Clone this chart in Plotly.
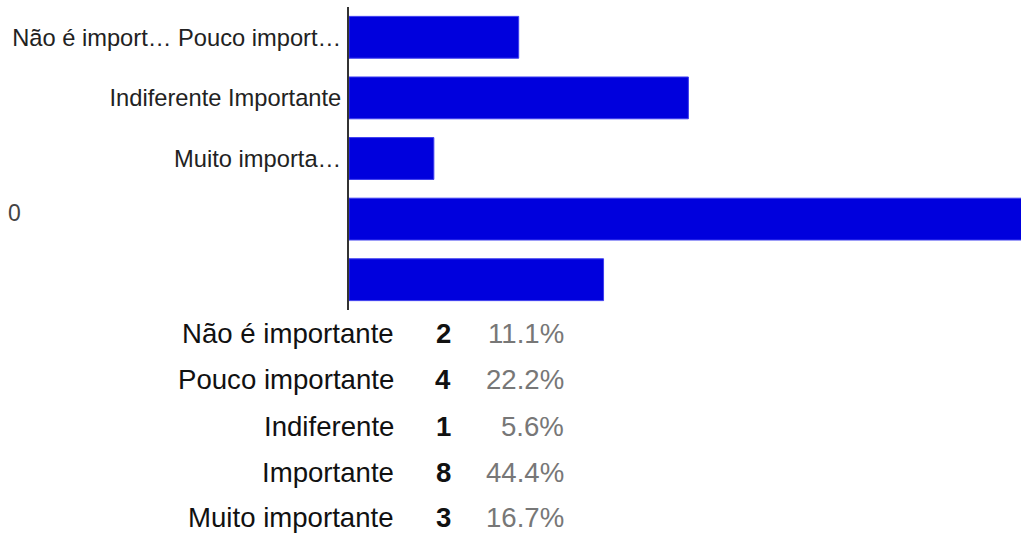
import plotly.graph_objects as go

categories = ["Não é importante", "Pouco importante", "Indiferente", "Importante", "Muito importante"]
counts = [2, 4, 1, 8, 3]
tick_positions = [0, 1, 2]
tick_labels = ["Não é import… Pouco import…", "Indiferente Importante", "Muito importa…"]

W, H = 1021, 535
L, R, T, B = 349, 0, 7, 225
pw, ph = W - L - R, H - T - B

def px_x(x):
    return (x - L) / pw

def px_y(y):
    return (H - B - y) / ph

fig = go.Figure(go.Bar(
    x=counts, y=list(range(len(counts))), orientation="h",
    marker=dict(color="#0000dd", line=dict(color="#3d3df0", width=1)),
    width=0.69, hoverinfo="skip",
))

total = sum(counts)
font = "Liberation Sans"
fs = 27.6
ann = []
row_y = [333, 379.5, 426, 472, 517.5]
for i, (c, n) in enumerate(zip(categories, counts)):
    yy = px_y(row_y[i])
    ann.append(dict(x=px_x(396), y=yy, xref="paper", yref="paper", text=c, showarrow=False,
                    xanchor="right", yanchor="middle", font=dict(size=fs, color="#111111", family=font)))
    ann.append(dict(x=px_x(443), y=yy, xref="paper", yref="paper", text=f"<b>{n}</b>", showarrow=False,
                    xanchor="center", yanchor="middle", font=dict(size=fs, color="#111111", family=font)))
    ann.append(dict(x=px_x(566), y=yy, xref="paper", yref="paper", text=f"{100*n/total:.1f}%", showarrow=False,
                    xanchor="right", yanchor="middle", font=dict(size=fs, color="#777777", family=font)))
ann.append(dict(x=px_x(6), y=px_y(213), xref="paper", yref="paper", text="0", showarrow=False,
                xanchor="left", yanchor="middle", font=dict(size=23, color="#444444", family=font)))

fig.update_layout(
    width=W, height=H, margin=dict(l=L, r=R, t=T, b=B),
    paper_bgcolor="white", plot_bgcolor="white", showlegend=False,
    xaxis=dict(range=[0, 7.92], showgrid=False, zeroline=False, showticklabels=False, ticks="", showline=False),
    yaxis=dict(range=[4.5, -0.5], tickvals=tick_positions, ticktext=tick_labels, showgrid=False,
               zeroline=False, showline=True, linecolor="#333333", linewidth=2, ticks="",
               ticklabelstandoff=1,
               tickfont=dict(size=23.7, color="#222222", family=font)),
    annotations=ann,
)
fig.write_html("out.html")
